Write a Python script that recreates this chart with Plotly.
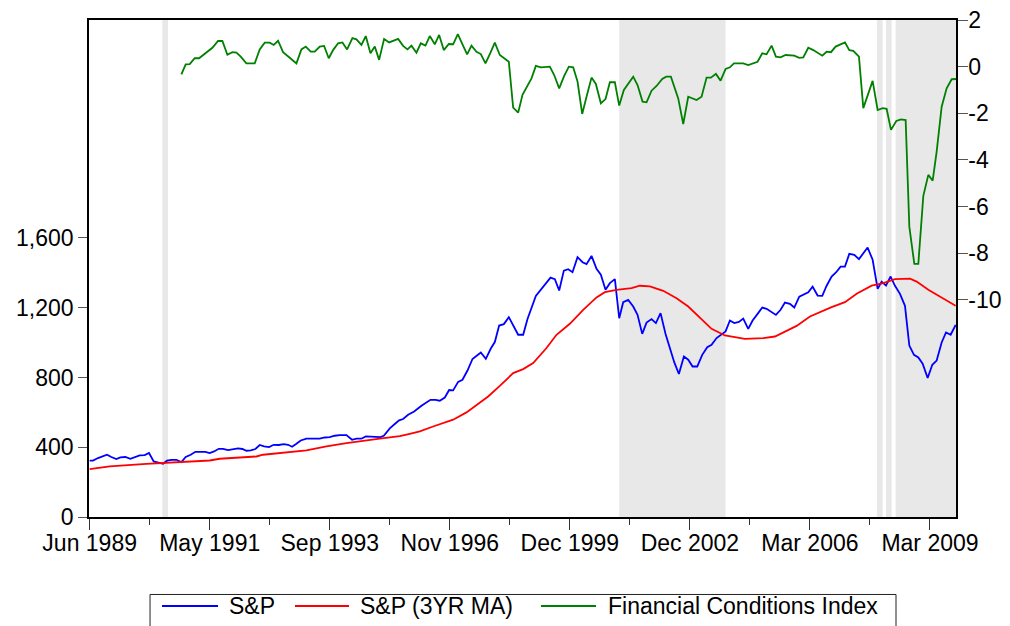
import plotly.graph_objects as go

# ---- x axis (observation index) ----
tick_obs = [0, 36, 72, 108, 144, 180, 216, 252]
tick_labels = ["Jun 1989", "May 1991", "Sep 1993", "Nov 1996", "Dec 1999",
               "Dec 2002", "Mar 2006", "Mar 2009"]
minor_obs = [18, 54, 90, 126, 162, 198, 234]

# ---- shaded periods (observation index) ----
shade_start = [21.8, 158.8, 236.1, 238.8, 241.7]
shade_end = [23.5, 190.7, 237.8, 240.5, 259.8]

# ---- S&P ----
sp_obs = [
    0.0, 1.0, 2.5, 3.8, 5.2, 6.5, 8.0, 9.2, 10.7, 12.2,
    13.7, 15.0, 16.5, 17.8, 19.2, 20.7, 22.0, 23.2, 24.5, 26.0,
    27.5, 28.8, 30.3, 31.7, 33.2, 34.7, 36.0, 37.3, 38.7, 40.0,
    41.5, 43.0, 44.5, 45.8, 47.0, 48.3, 49.7, 51.0, 52.3, 53.8,
    55.2, 56.7, 58.2, 59.5, 60.7, 62.0, 63.3, 65.0, 67.0, 69.0,
    70.5, 72.0, 73.5, 75.0, 77.0, 78.7, 80.0, 81.5, 82.8, 84.3,
    85.8, 87.2, 88.2, 90.0, 91.5, 92.8, 94.0, 95.5, 97.3, 99.5,
    102.2, 103.7, 105.0, 106.5, 107.8, 109.0, 110.5, 111.8, 113.3, 114.8,
    117.3, 118.8, 120.3, 121.5, 122.8, 124.2, 125.7, 127.0, 128.5, 130.0,
    131.3, 133.8, 135.3, 136.7, 138.2, 139.5, 140.8, 142.2, 143.5, 144.8,
    146.3, 147.8, 149.0, 150.5, 152.0, 153.3, 154.7, 156.0, 157.5, 158.8,
    160.0, 161.5, 163.0, 164.3, 165.7, 167.0, 168.5, 169.8, 171.2, 172.7,
    174.0, 175.3, 176.7, 178.2, 179.5, 180.8, 182.2, 183.7, 185.2, 186.5,
    188.0, 189.5, 190.7, 192.0, 193.3, 194.7, 196.0, 197.5, 198.8, 200.3,
    201.7, 203.0, 204.5, 205.8, 207.2, 208.5, 210.0, 211.3, 212.8, 214.2,
    215.5, 216.8, 218.3, 219.7, 221.0, 222.5, 223.8, 225.2, 226.5, 227.8,
    229.3, 230.7, 232.0, 233.3, 234.8, 236.3, 237.5, 238.8, 240.2, 241.5,
    243.0, 244.5, 245.8, 247.2, 248.5, 249.8, 251.3, 252.7, 254.0, 255.5,
    256.8, 258.2, 259.7,
]
sp_val = [
    323, 323, 338, 347, 357, 344, 332, 342, 344, 334,
    344, 353, 355, 367, 319, 313, 305, 323, 328, 328,
    315, 344, 357, 374, 374, 374, 367, 376, 391, 391,
    384, 390, 393, 390, 380, 382, 390, 413, 405, 401,
    414, 413, 418, 414, 403, 420, 439, 450, 450, 450,
    456, 458, 466, 470, 470, 443, 449, 449, 462, 462,
    462, 458, 466, 508, 533, 554, 562, 586, 605, 638,
    672, 672, 667, 685, 728, 726, 775, 787, 840, 906,
    943, 907, 966, 1003, 1098, 1106, 1146, 1102, 1045, 1045,
    1135, 1268, 1303, 1335, 1373, 1364, 1299, 1413, 1421, 1404,
    1490, 1461, 1450, 1497, 1423, 1389, 1303, 1341, 1364, 1140,
    1232, 1245, 1207, 1159, 1050, 1115, 1135, 1112, 1169, 1049,
    969, 888, 820, 920, 902, 863, 863, 930, 974, 987,
    1026, 1049, 1064, 1127, 1112, 1119, 1138, 1079, 1127, 1165,
    1201, 1194, 1173, 1159, 1188, 1230, 1222, 1201, 1264, 1278,
    1289, 1321, 1270, 1268, 1326, 1379, 1402, 1436, 1436, 1509,
    1503, 1479, 1513, 1545, 1475, 1308, 1350, 1327, 1379, 1326,
    1280, 1211, 983, 930, 915, 879, 797, 873, 897, 1001,
    1058, 1045, 1102,
]

# ---- S&P 3-year moving average ----
ma_obs = [
    0.0, 6.0, 17.0, 22.0, 30.0, 36.0, 39.0, 50.0, 52.0, 61.0,
    65.0, 71.0, 77.0, 87.0, 90.0, 93.0, 96.0, 99.0, 103.0, 109.0,
    113.0, 119.5, 123.0, 127.0, 130.0, 133.0, 137.0, 140.0, 144.0, 148.0,
    152.0, 154.5, 158.0, 162.5, 165.0, 168.0, 172.0, 176.0, 179.5, 183.0,
    186.5, 190.5, 196.5, 202.0, 205.5, 212.0, 216.0, 222.5, 226.5, 230.0,
    234.5, 238.0, 241.5, 246.0, 248.0, 251.5, 256.0, 259.7,
]
ma_val = [
    275, 290, 305, 309, 315, 324, 334, 347, 357, 372,
    382, 405, 424, 449, 456, 464, 477, 491, 519, 558,
    600, 691, 752, 825, 848, 883, 969, 1045, 1108, 1188,
    1259, 1289, 1303, 1312, 1326, 1322, 1297, 1255, 1207, 1140,
    1079, 1041, 1022, 1026, 1035, 1096, 1150, 1203, 1232, 1280,
    1327, 1341, 1364, 1367, 1350, 1303, 1251, 1211,
]

# ---- Financial Conditions Index ----
fci_obs = [
    27.5, 28.8, 30.0, 31.5, 32.8, 34.8, 36.8, 38.5, 39.8, 41.3,
    42.8, 44.0, 45.3, 47.0, 49.5, 51.0, 52.5, 54.0, 55.2, 56.5,
    58.0, 60.0, 62.0, 63.5, 64.8, 66.3, 67.5, 69.0, 70.3, 71.7,
    73.0, 74.5, 75.8, 77.2, 78.8, 80.0, 81.5, 82.8, 84.2, 85.5,
    86.8, 88.3, 89.8, 92.5, 94.0, 95.3, 96.5, 98.0, 99.3, 100.7,
    102.0, 103.5, 104.8, 106.2, 107.7, 109.0, 110.4, 111.8, 113.2, 114.5,
    116.0, 117.3, 118.7, 120.2, 121.5, 123.0, 125.7, 127.0, 128.5, 129.8,
    132.5, 133.8, 135.3, 138.0, 139.3, 140.8, 142.3, 143.7, 145.0, 146.3,
    147.7, 149.0, 150.5, 151.8, 153.3, 154.7, 156.0, 157.5, 158.8, 160.2,
    163.0, 164.3, 165.8, 167.0, 168.5, 170.0, 171.7, 172.9, 174.3, 176.5,
    178.0, 179.5, 182.0, 183.5, 185.0, 186.3, 187.8, 189.2, 190.7, 192.0,
    193.2, 196.0, 197.5, 200.3, 201.7, 203.0, 204.5, 205.8, 207.2, 208.7,
    211.3, 212.8, 214.0, 215.5, 217.0, 219.7, 221.0, 222.3, 223.7, 226.5,
    227.8, 229.0, 230.7, 232.0, 234.8, 236.3, 237.8, 239.0, 240.3, 241.9,
    243.3, 244.7, 245.8, 247.3, 248.5, 250.0, 251.5, 252.8, 254.0, 255.5,
    257.0, 258.5, 259.8,
]
fci_val = [
    -0.33, 0.10, 0.11, 0.36, 0.36, 0.60, 0.81, 1.10, 1.10, 0.51,
    0.62, 0.60, 0.43, 0.14, 0.14, 0.74, 1.03, 1.03, 0.93, 1.11,
    0.62, 0.38, 0.14, 0.74, 0.86, 0.64, 0.64, 0.86, 0.89, 0.36,
    0.71, 1.00, 1.04, 0.74, 1.22, 1.17, 0.93, 1.31, 0.57, 0.86,
    0.29, 1.19, 1.04, 1.19, 0.89, 0.74, 0.90, 0.60, 1.00, 0.90,
    1.31, 0.96, 1.36, 0.71, 0.97, 0.96, 1.39, 0.96, 0.53, 0.90,
    0.64, 0.54, 0.14, 0.60, 1.03, 0.50, 0.21, -1.76, -1.97, -1.21,
    -0.50, 0.03, -0.03, 0.00, -0.36, -0.93, -0.40, 0.00, -0.03, -0.64,
    -2.03, -1.29, -0.47, -0.74, -1.57, -1.39, -0.67, -0.67, -1.67, -1.00,
    -0.43, -0.79, -1.50, -1.53, -1.03, -0.83, -0.53, -0.43, -0.43, -1.36,
    -2.46, -1.29, -1.43, -1.29, -0.47, -0.47, -0.31, -0.60, -0.10, -0.03,
    0.14, 0.14, 0.07, 0.21, 0.57, 0.53, 0.90, 0.43, 0.40, 0.50,
    0.47, 0.38, 0.40, 0.81, 0.71, 0.47, 0.64, 0.62, 0.86, 1.04,
    0.71, 0.68, 0.43, -1.78, -0.61, -1.86, -1.78, -1.81, -2.71, -2.33,
    -2.26, -2.29, -6.86, -8.46, -8.46, -5.54, -4.64, -4.89, -3.64, -1.72,
    -0.93, -0.54, -0.53,
]

left_ticks = [0, 400, 800, 1200, 1600]
left_labels = ["0", "400", "800", "1,200", "1,600"]
right_ticks = [2, 0, -2, -4, -6, -8, -10]
right_labels = ["2", "0", "-2", "-4", "-6", "-8", "-10"]

series_names = ["S&P", "S&P (3YR MA)", "Financial Conditions Index"]
series_colors = ["#0000ff", "#ff0000", "#008000"]

FONT = "Arial, Liberation Sans, sans-serif"

fig = go.Figure()
fig.add_trace(go.Scatter(x=sp_obs, y=sp_val, name=series_names[0], mode="lines",
                         line=dict(color=series_colors[0], width=1.8)))
fig.add_trace(go.Scatter(x=ma_obs, y=ma_val, name=series_names[1], mode="lines",
                         line=dict(color=series_colors[1], width=1.8)))
fig.add_trace(go.Scatter(x=fci_obs, y=fci_val, name=series_names[2],
                         mode="lines", yaxis="y2",
                         line=dict(color=series_colors[2], width=1.8)))

for s, e in zip(shade_start, shade_end):
    fig.add_shape(type="rect", xref="x", yref="paper", x0=s, x1=e, y0=0, y1=1,
                  fillcolor="#e8e8e8", line=dict(width=0), layer="below")

# ---- legend drawn below the plot (paper coordinates) ----
leg_box = dict(x0=0.0704, x1=0.9308, y0=-0.222, y1=-0.1559)
leg_y = -0.1791
leg_line_x = [(0.0842, 0.1488), (0.2376, 0.2999), (0.5213, 0.5848)]
leg_text_x = [0.1592, 0.3103, 0.5963]

fig.add_shape(type="rect", xref="paper", yref="paper", **leg_box,
              line=dict(color="#222222", width=1), fillcolor="white", layer="above")
for (lx0, lx1), tx, name, col in zip(leg_line_x, leg_text_x, series_names, series_colors):
    fig.add_shape(type="line", xref="paper", yref="paper", x0=lx0, x1=lx1,
                  y0=leg_y, y1=leg_y, line=dict(color=col, width=1.8), layer="above")
    fig.add_annotation(xref="paper", yref="paper", x=tx, y=leg_y, text=name,
                       showarrow=False, xanchor="left", yanchor="middle",
                       font=dict(family=FONT, size=23, color="black"))

fig.update_layout(
    width=1010, height=626,
    margin=dict(l=89, r=54, t=20, b=109, autoexpand=False),
    paper_bgcolor="white", plot_bgcolor="white",
    font=dict(family=FONT, size=23, color="black"),
    showlegend=False,
    xaxis=dict(range=[-0.2, 259.8], tickmode="array", tickvals=tick_obs,
               ticktext=tick_labels, ticks="outside", ticklen=11, tickcolor="#333",
               showline=True, linecolor="black", linewidth=1.5, mirror=True,
               showgrid=False, zeroline=False, automargin=False,
               ticklabelstandoff=-6,
               minor=dict(tickmode="array", tickvals=minor_obs, ticks="outside",
                          ticklen=6, tickcolor="#333", showgrid=False)),
    yaxis=dict(range=[0, 2850], tickmode="array", tickvals=left_ticks,
               ticktext=left_labels, ticks="outside", ticklen=9, tickcolor="#555",
               showline=True, linecolor="black", linewidth=1.5,
               showgrid=False, zeroline=False, automargin=False),
    yaxis2=dict(range=[-19.31, 2], overlaying="y", side="right", tickmode="array",
                tickvals=right_ticks, ticktext=right_labels, ticks="outside",
                ticklen=10, tickcolor="#555", showline=True, linecolor="black",
                linewidth=1.5, showgrid=False, zeroline=False, automargin=False,
                ticklabelstandoff=-4),
)

fig.write_html("out.html", config={"displayModeBar": False},
               post_script="document.body.style.margin='0px';")
